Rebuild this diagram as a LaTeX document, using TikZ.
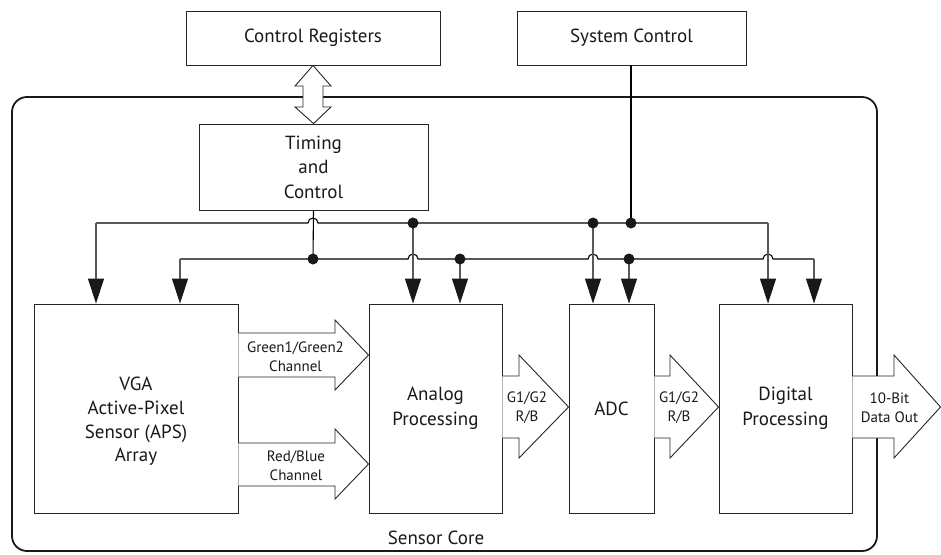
\documentclass[tikz,border=0pt]{standalone}
\usepackage{fontspec}
\setmainfont{PT Sans}
\usetikzlibrary{arrows.meta}
\begin{document}
\begin{tikzpicture}[x=1pt,y=-1pt,
  box/.style={draw=black!85, line width=0.9pt, fill=white, inner sep=0pt, align=center,
    font=\fontsize{19}{24.5}\selectfont, text=black!90},
  lbl/.style={inner sep=0pt, align=center, font=\fontsize{19}{23.7}\selectfont, text=black!90},
  small/.style={inner sep=0pt, align=center, font=\fontsize{15}{19}\selectfont, text=black!90},
  bus/.style={draw=black, line width=1.1pt},
  drop/.style={draw=black!65, line width=1.1pt, -{Triangle[width=16pt,length=25pt,color=black!90]}},
  blk/.style={draw=black!85, line width=0.9pt, fill=white, line join=miter},
  dot/.style={fill=black!90},
  core/.style={draw=black!90, line width=1.8pt, rounded corners=15pt}]
\useasboundingbox (0,0) rectangle (941,554);

% sensor core frame
\draw[core] (12,97) rectangle (877,551);
\node[lbl] (corelbl) at (436,538) {Sensor Core};

% top boxes
\node[box, minimum width=254pt, minimum height=54pt] (creg) at (313,38) {Control Registers};
\node[box, minimum width=229pt, minimum height=54pt] (sysc) at (631.5,38) {System Control};
\node[box, minimum width=229pt, minimum height=86pt] (timing) at (313.5,167) {Timing\\and\\Control};

% processing boxes
\node[box, minimum width=204pt, minimum height=209pt] (vga) at (136,408.5) {};
\node[lbl] (vgatxt) at (136,421.5) {VGA\\Active-Pixel\\Sensor (APS)\\Array};
\node[box, minimum width=133pt, minimum height=209pt] (analog) at (435.5,408.5) {Analog\\Processing};
\node[box, minimum width=85pt, minimum height=209pt] (adc) at (611.5,408.5) {ADC};
\node[box, minimum width=133pt, minimum height=209pt] (digital) at (785.5,408.5) {Digital\\Processing};

% bus coordinates
\coordinate (u1) at (96,223);
\coordinate (u2) at (413,223);
\coordinate (u3) at (593,223);
\coordinate (u4) at (631,223);
\coordinate (u5) at (768,223);
\coordinate (l1) at (180,259);
\coordinate (l2) at (313,259);
\coordinate (l3) at (460,259);
\coordinate (l4) at (629,259);
\coordinate (l5) at (814,259);

% buses with hops
\draw[bus] (u1) -- (308,223) arc[start angle=180,end angle=0,radius=5pt] -- (u5);
\draw[bus] (l1) -- (408,259) arc[start angle=180,end angle=0,radius=5pt]
  -- (588,259) arc[start angle=180,end angle=0,radius=5pt]
  -- (763,259) arc[start angle=180,end angle=0,radius=5pt] -- (l5);

% feeds into buses
\draw[bus] (timing.south) -- (l2);
\draw[bus] (sysc.south -| u4) -- (u4);

% drops to blocks
\draw[drop] (u1) -- (u1 |- vga.north);
\draw[drop] (l1) -- (l1 |- vga.north);
\draw[drop] (u2) -- (u2 |- analog.north);
\draw[drop] (l3) -- (l3 |- analog.north);
\draw[drop] (u3) -- (u3 |- adc.north);
\draw[drop] (l4) -- (l4 |- adc.north);
\draw[drop] (u5) -- (u5 |- digital.north);
\draw[drop] (l5) -- (l5 |- digital.north);

% junction dots
\foreach \p in {l2,u2,l3,u3,u4,l4} \fill[dot] (\p) circle[radius=5.5pt];

% double arrow control registers <-> timing
\draw[blk] (creg.south) -- (331,86) -- (323,86) -- (323,107) -- (331,107) -- (timing.north)
  -- (295,107) -- (303,107) -- (303,86) -- (295,86) -- cycle;

% block arrows
\draw[blk] (vga.east |- {(0,333)}) -- (335,333) -- (335,320) -- (analog.west |- {(0,355)}) -- (335,390) -- (335,377) -- (vga.east |- {(0,377)});
\node[small] (g12) at (295.5,357) {Green1/Green2\\Channel};
\draw[blk] (vga.east |- {(0,443)}) -- (335,443) -- (335,429) -- (analog.west |- {(0,464)}) -- (335,499) -- (335,486) -- (vga.east |- {(0,486)});
\node[small] (rb) at (296,466) {Red/Blue\\Channel};

\draw[blk] (analog.east |- {(0,376)}) -- (519,376) -- (519,355) -- (adc.west |- {(0,407)}) -- (519,458) -- (519,438) -- (analog.east |- {(0,438)});
\node[small] (g1) at (527,408) {G1/G2\\R/B};
\draw[blk] (adc.east |- {(0,376)}) -- (670,376) -- (670,355) -- (digital.west |- {(0,407)}) -- (670,458) -- (670,438) -- (adc.east |- {(0,438)});
\node[small] (g2) at (679,408) {G1/G2\\R/B};
\coordinate (out) at (940.5,407);
\draw[blk] (digital.east |- {(0,376)}) -- (894,376) -- (894,355) -- (out) -- (894,458) -- (894,438) -- (digital.east |- {(0,438)});
\node[small] (dout) at (889.5,408) {10-Bit\\Data Out};
\end{tikzpicture}
\end{document}
